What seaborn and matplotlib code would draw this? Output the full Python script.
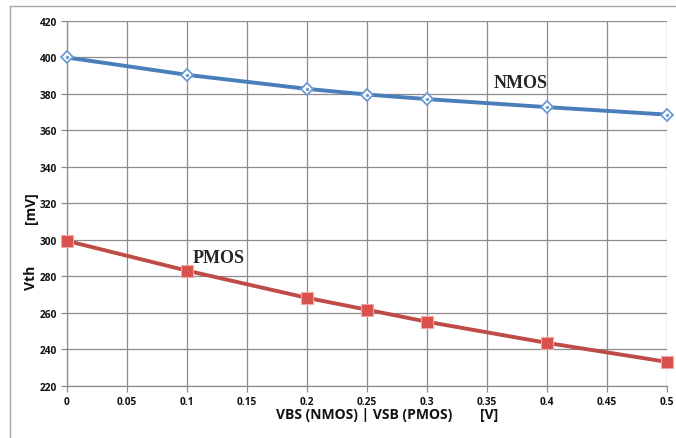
import matplotlib
matplotlib.use("Agg")
import matplotlib.pyplot as plt
import seaborn as sns
import pandas as pd

sns.set_theme(style="white")
plt.rcParams['font.family'] = ['Open Sans', 'DejaVu Sans']

# データ
vbs = [0, 0.1, 0.2, 0.25, 0.3, 0.4, 0.5]
vth_nmos = [400, 390.5, 382.8, 379.7, 377.2, 372.8, 368.7]
vth_pmos = [299.5, 283.2, 268.3, 261.8, 255.2, 243.6, 233.2]
x_ticks = [0, 0.05, 0.1, 0.15, 0.2, 0.25, 0.3, 0.35, 0.4, 0.45, 0.5]
x_tick_labels = ["0", "0.05", "0.1", "0.15", "0.2", "0.25", "0.3", "0.35", "0.4", "0.45", "0.5"]
y_ticks = [220, 240, 260, 280, 300, 320, 340, 360, 380, 400, 420]

nmos = pd.DataFrame({"V": vbs, "Vth": vth_nmos})
pmos = pd.DataFrame({"V": vbs, "Vth": vth_pmos})

fig = plt.figure(figsize=(6.76, 4.39), dpi=100)
ax = fig.add_axes([0.0991, 0.1185, 0.8876, 0.8314])

blue = "#4A7EBB"
red = "#BE4B48"

sns.lineplot(data=nmos, x="V", y="Vth", ax=ax, color=blue, linewidth=2.8,
             marker="D", markersize=6.5, markerfacecolor="white",
             markeredgecolor="#6E9AD4", markeredgewidth=1.3, zorder=3, clip_on=False)
ax.scatter(nmos["V"], nmos["Vth"], s=2, color="#6E9AD4", zorder=4, clip_on=False)
sns.lineplot(data=pmos, x="V", y="Vth", ax=ax, color=red, linewidth=2.8,
             marker="s", markersize=9, markerfacecolor="#D9504C",
             markeredgecolor="#F0A8A6", markeredgewidth=0.8, zorder=3, clip_on=False)

ax.set_xlim(0, 0.5)
ax.set_ylim(220, 420)
ax.set_xticks(x_ticks)
ax.set_xticklabels(x_tick_labels)
ax.set_yticks(y_ticks)
ax.grid(True, color="#8C8C8C", linewidth=0.9)
ax.set_axisbelow(True)
for s in ["top", "right"]:
    ax.spines[s].set_visible(False)
for s in ["left", "bottom"]:
    ax.spines[s].set_color("#8C8C8C")
    ax.spines[s].set_linewidth(0.9)
ax.tick_params(axis="both", which="both", length=4, width=0.9, color="#8C8C8C",
               labelsize=7.3, pad=3, bottom=True, left=True, labelcolor="#111111")
for lab in ax.get_xticklabels() + ax.get_yticklabels():
    lab.set_fontweight("bold")
ax.set_xlabel("")
ax.set_ylabel("")

# 軸ラベル
fig.text(0.408, 0.055, "VBS (NMOS) | VSB (PMOS)", fontsize=10, fontweight="bold",
         ha="left", va="center", color="#111111")
fig.text(0.710, 0.055, "[V]", fontsize=10, fontweight="bold", ha="left", va="center",
         color="#111111")
fig.text(0.046, 0.367, "Vth", fontsize=10, fontweight="bold", rotation=90,
         ha="center", va="center", color="#111111")
fig.text(0.046, 0.526, "[mV]", fontsize=10, fontweight="bold", rotation=90,
         ha="center", va="center", color="#111111")

# 注記
ax.text(0.378, 386.5, "NMOS", family=["Liberation Serif"], fontsize=13,
        fontweight="bold", color="#262626", ha="center", va="center")
ax.text(0.126, 290.5, "PMOS", family=["Liberation Serif"], fontsize=13,
        fontweight="bold", color="#262626", ha="center", va="center")

# 外枠
fig.add_artist(plt.Line2D([0.0148, 0.0148], [0, 0.984], transform=fig.transFigure,
                          color="#A6A6A6", linewidth=1.0))
fig.add_artist(plt.Line2D([0.0148, 1.0], [0.984, 0.984], transform=fig.transFigure,
                          color="#A6A6A6", linewidth=1.0))

fig.savefig("out.png", dpi=100, facecolor="white")
